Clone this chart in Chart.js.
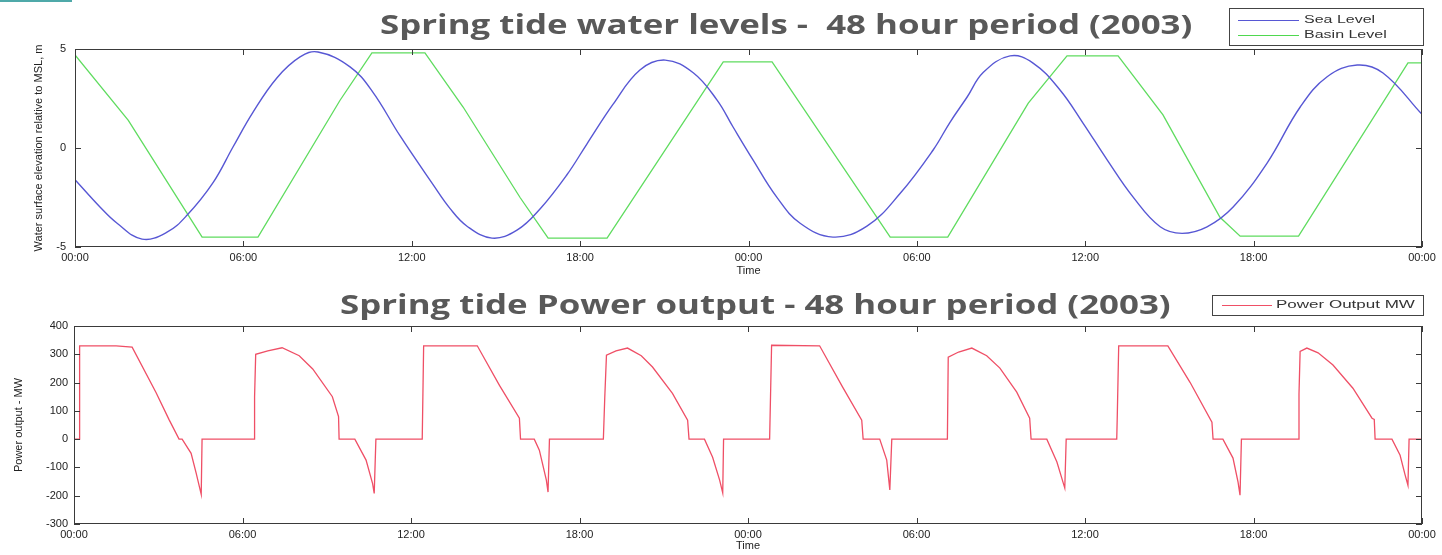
<!DOCTYPE html>
<html>
<head>
<meta charset="utf-8">
<script src="https://cdn.jsdelivr.net/npm/chart.js@4.4.0/dist/chart.umd.min.js"></script>
<style>
  body { margin: 0; background: #fff; width: 1442px; height: 555px; position: relative; overflow: hidden; font-family: 'Liberation Sans', Arial, sans-serif; }
  .pane { position: absolute; left: 0; }
  .title { position: absolute; font-family: 'Open Sans', sans-serif; font-weight: bold; font-size: 26px; color: #595959; white-space: pre; line-height: 1; transform: scaleX(1.34); transform-origin: 0 0; }
  .legend { position: absolute; border: 1px solid #444; background: #fff; font-size: 10px; color: #333; }
  .legend .row { position: absolute; white-space: nowrap; height: 10px; }
  .legend .swatch { position: absolute; top: 5px; height: 1.4px; }
  .legend .txt { position: absolute; top: 0; line-height: 10px; transform: scaleX(1.6); transform-origin: 0 0; }
  .corner { position: absolute; left: 0; top: 0; width: 72px; height: 2px; background: #4fa9a9; }
</style>
</head>
<body>
<div class="corner"></div>
<div class="pane" style="top:0"><canvas id="levels" width="1442" height="280"></canvas></div>
<div class="pane" style="top:280px"><canvas id="power" width="1442" height="275"></canvas></div>

<div class="title" style="left:380px; top:11px">Spring tide water levels -  48 hour period (2003)</div>
<div class="title" style="left:340px; top:291px">Spring tide Power output - 48 hour period (2003)</div>

<div class="legend" style="left:1229px; top:8px; width:193px; height:36px">
  <div class="row" style="left:8px; top:6px"><div class="swatch" style="left:0; width:61px; background:#5757d4"></div><div class="txt" style="left:66px">Sea Level</div></div>
  <div class="row" style="left:8px; top:21px"><div class="swatch" style="left:0; width:61px; background:#4fd84f"></div><div class="txt" style="left:66px">Basin Level</div></div>
</div>
<div class="legend" style="left:1212px; top:295px; width:210px; height:19px">
  <div class="row" style="left:9px; top:4px"><div class="swatch" style="left:0; width:50px; background:#ef4f66"></div><div class="txt" style="left:54px; transform:scaleX(1.7)">Power Output MW</div></div>
</div>

<script>
// hours from start of the 48 h window
const seaTime  = [0, 0.89, 1.5, 2.39, 3.28, 3.99, 4.92, 5.63, 6.34, 7.2, 8.02, 8.66, 9.8, 10.6, 11.58,
  12.76, 13.36, 13.97, 14.86, 15.75, 16.57, 17.53, 18.24, 19.17, 20.13, 21.03, 22.03, 22.88, 23.45, 24.16,
  25.0, 25.84, 27.01, 28.22, 29.4, 30.58, 31.18, 31.78, 32.37, 33.32, 34.14, 35.1, 35.92, 36.78, 37.7,
  38.67, 39.45, 40.34, 41.27, 42.48, 43.66, 44.62, 45.69, 46.61, 48];
const seaLevel = [-1.6, -2.98, -3.8, -4.6, -4.25, -3.4, -1.75, 0.05, 1.8, 3.55, 4.6, 4.85, 4.1, 2.85, 0.62,
  -1.85, -3.05, -3.95, -4.55, -4.15, -3.08, -1.35, 0.2, 2.2, 3.94, 4.44, 3.8, 2.42, 1.06, -0.6,
  -2.47, -3.8, -4.5, -3.95, -2.3, -0.1, 1.3, 2.55, 3.82, 4.65, 4.29, 2.93, 1.26, -0.6, -2.47,
  -3.98, -4.31, -3.98, -2.98, -0.76, 2.07, 3.6, 4.19, 3.79, 1.7];

const basinTime  = [0, 1.9, 4.53, 6.52, 9.44, 10.58, 12.47, 13.83, 15.86, 16.86, 18.96, 23.1, 24.84,
  29.05, 31.1, 33.97, 35.35, 37.17, 38.77, 40.8, 41.52, 43.6, 47.5, 48];
const basinLevel = [4.7, 1.4, -4.5, -4.5, 2.4, 4.8, 4.8, 2.07, -2.5, -4.55, -4.55, 4.35, 4.35,
  -4.5, -4.5, 2.27, 4.65, 4.65, 1.67, -3.5, -4.45, -4.45, 4.3, 4.3];

const powerTime = [0, 0.18, 0.2, 1.5, 2.07, 2.92, 3.38, 3.74, 3.85, 4.17, 4.35, 4.53, 4.56,
  6.41, 6.43, 6.47, 6.9, 7.41, 8.02, 8.5, 9.2, 9.42, 9.44, 10.0, 10.4, 10.63, 10.69, 10.75,
  12.4, 12.45, 14.36, 15.15, 15.86, 15.9, 16.39, 16.57, 16.82, 16.88, 16.93,
  18.85, 18.9, 18.96, 19.3, 19.71, 20.2, 20.6, 21.31, 21.85, 21.9, 22.45, 22.74, 22.99, 23.1, 23.13,
  24.77, 24.84, 26.55, 27.37, 28.05, 28.1, 28.69, 28.94, 29.05, 29.12,
  31.1, 31.13, 31.5, 31.97, 32.5, 32.97, 33.57, 34.03, 34.08, 34.64, 35.0, 35.28, 35.33,
  37.13, 37.15, 37.2, 38.95, 39.74, 40.52, 40.56, 40.91, 41.27, 41.45, 41.52, 41.57,
  43.59, 43.62, 43.66, 43.9, 44.3, 44.83, 45.54, 46.22, 46.3, 46.33, 46.93, 47.22, 47.4, 47.5, 47.54, 48];
const powerOutput = [0, 0, 330, 330, 325, 165, 70, 0, 0, -50, -120, -195, 0,
  0, 150, 300, 312, 323, 295, 248, 150, 80, 0, 0, -74, -156, -192, 0,
  0, 330, 330, 190, 74, 0, 0, -39, -145, -187, 0,
  0, 148, 297, 312, 322, 295, 255, 162, 67, 0, 0, -64, -145, -190, 0,
  0, 332, 330, 184, 67, 0, 0, -74, -180, 0,
  0, 290, 308, 322, 295, 251, 166, 74, 0, 0, -81, -173, 0,
  0, 85, 330, 330, 201, 60, 0, 0, -67, -152, -198, 0,
  0, 160, 310, 322, 305, 262, 180, 74, 70, 0, 0, -57, -127, -163, 0, 0];

const hourTicks = [0, 6, 12, 18, 24, 30, 36, 42, 48];
const levelTicks = [-5, 0, 5];
const powerTicks = [-300, -200, -100, 0, 100, 200, 300, 400];

const pts = (xs, ys) => xs.map((x, i) => ({ x, y: ys[i] }));
const hhmm = v => String(v % 24).padStart(2, '0') + ':00';

// MATLAB-style box with inward ticks on all four sides
const frame = {
  id: 'frame',
  afterDraw(chart) {
    const { ctx, chartArea: a, scales: { x, y } } = chart;
    ctx.save();
    ctx.strokeStyle = '#3a3a3a';
    ctx.lineWidth = 1;
    ctx.strokeRect(Math.round(a.left) + 0.5, Math.round(a.top) + 0.5, Math.round(a.width) - 1, Math.round(a.height) - 1);
    ctx.beginPath();
    x.ticks.forEach(t => {
      const px = Math.round(x.getPixelForValue(t.value)) + 0.5;
      ctx.moveTo(px, a.top); ctx.lineTo(px, a.top + 6);
      ctx.moveTo(px, a.bottom); ctx.lineTo(px, a.bottom - 6);
    });
    y.ticks.forEach(t => {
      const py = Math.round(y.getPixelForValue(t.value)) + 0.5;
      ctx.moveTo(a.left, py); ctx.lineTo(a.left + 6, py);
      ctx.moveTo(a.right, py); ctx.lineTo(a.right - 6, py);
    });
    ctx.stroke();
    ctx.restore();
  }
};

const tickFont = { family: 'Liberation Sans', size: 11 };

function xAxis(height) {
  return {
    type: 'linear', min: 0, max: 48,
    afterBuildTicks: s => { s.ticks = hourTicks.map(v => ({ value: v })); },
    afterFit: s => { s.height = height; },
    grid: { display: false, drawTicks: false }, border: { display: false },
    ticks: { callback: hhmm, color: '#222', font: tickFont, padding: 4, maxRotation: 0, autoSkip: false },
    title: { display: true, text: 'Time', color: '#222', font: tickFont, padding: { top: 0, bottom: 2 } }
  };
}

function yAxis(min, max, tickVals, width, label, pad) {
  return {
    type: 'linear', min, max,
    afterBuildTicks: s => { s.ticks = tickVals.map(v => ({ value: v })); },
    afterFit: s => { s.width = width; },
    grid: { display: false, drawTicks: false }, border: { display: false },
    ticks: { color: '#222', font: tickFont, padding: pad },
    title: { display: true, text: label, color: '#222', font: tickFont, padding: { top: 4, bottom: 0 } }
  };
}

const common = {
  responsive: false,
  animation: false,
  events: [],
  elements: { point: { radius: 0 } },
  plugins: { legend: { display: false }, tooltip: { enabled: false } }
};

new Chart(document.getElementById('levels'), {
  type: 'line',
  data: {
    datasets: [
      { label: 'Sea Level', data: pts(seaTime, seaLevel), borderColor: '#5757d4', borderWidth: 1.4, tension: 0.4 },
      { label: 'Basin Level', data: pts(basinTime, basinLevel), borderColor: '#5fdc5f', borderWidth: 1.3, tension: 0 }
    ]
  },
  options: {
    ...common,
    layout: { padding: { left: 28, right: 20, top: 49, bottom: 0 } },
    scales: {
      x: xAxis(33),
      y: yAxis(-5, 5, levelTicks, 47, 'Water surface elevation relative to MSL, m', 9)
    }
  },
  plugins: [frame]
});

new Chart(document.getElementById('power'), {
  type: 'line',
  data: {
    datasets: [
      { label: 'Power Output MW', data: pts(powerTime, powerOutput), borderColor: '#ef4f66', borderWidth: 1.3, tension: 0 }
    ]
  },
  options: {
    ...common,
    layout: { padding: { left: 8, right: 20, top: 46, bottom: 0 } },
    scales: {
      x: xAxis(31),
      y: yAxis(-300, 400, powerTicks, 66, 'Power output - MW', 6)
    }
  },
  plugins: [frame]
});
</script>
</body>
</html>
